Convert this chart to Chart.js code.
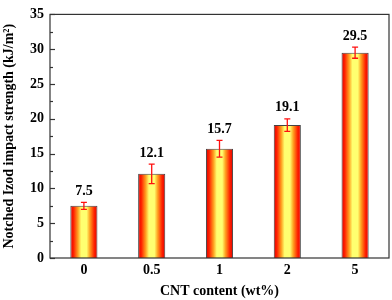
<!DOCTYPE html>
<html>
<head>
<meta charset="utf-8">
<script src="https://cdn.jsdelivr.net/npm/chart.js@4"></script>
<style>
  html, body { margin: 0; padding: 0; background: #fff; }
  #wrap { width: 392px; height: 300px; position: relative; }
</style>
</head>
<body>
<div id="wrap"><canvas id="chart"></canvas></div>
<script>
// Data
const categories = ["0", "0.5", "1", "2", "5"]
const strength = [7.5, 12.1, 15.7, 19.1, 29.5]
const errors = [0.5, 1.4, 1.2, 0.9, 0.8]
const valueLabels = ["7.5", "12.1", "15.7", "19.1", "29.5"]
const yTicks = [0, 5, 10, 15, 20, 25, 30, 35]

const serif = "'Liberation Serif', 'Times New Roman', serif"
const barFraction = 0.4

// horizontal red-yellow-red gradient for each bar
function barGradient(ctx) {
  const chart = ctx.chart
  const xs = chart.scales.x
  if (!chart.chartArea || !xs || ctx.dataIndex === undefined) return "#ff8800"
  const cx = xs.getPixelForValue(ctx.dataIndex)
  const half = ((xs.right - xs.left) / categories.length) * barFraction / 2
  if (!isFinite(cx) || !isFinite(half) || half <= 0) return "#ff8800"
  const g = chart.ctx.createLinearGradient(cx - half, 0, cx + half, 0)
  g.addColorStop(0, "#e00000")
  g.addColorStop(0.12, "#ff2200")
  g.addColorStop(0.28, "#ffa020")
  g.addColorStop(0.4, "#ffff70")
  g.addColorStop(0.6, "#ffff70")
  g.addColorStop(0.72, "#ffa020")
  g.addColorStop(0.88, "#ff2200")
  g.addColorStop(1, "#e00000")
  return g
}

// frame, inward y ticks, error bars and value labels
const extras = {
  id: "extras",
  afterDatasetsDraw(chart) {
    const ctx = chart.ctx
    const area = chart.chartArea
    const y = chart.scales.y
    const meta = chart.getDatasetMeta(0)

    // error bars
    ctx.save()
    ctx.strokeStyle = "#ff1010"
    ctx.lineWidth = 1.3
    meta.data.forEach((bar, i) => {
      const top = y.getPixelForValue(strength[i] + errors[i])
      const bot = y.getPixelForValue(strength[i] - errors[i])
      ctx.beginPath()
      ctx.moveTo(bar.x, top)
      ctx.lineTo(bar.x, bot)
      ctx.moveTo(bar.x - 3, top)
      ctx.lineTo(bar.x + 3, top)
      ctx.moveTo(bar.x - 3, bot)
      ctx.lineTo(bar.x + 3, bot)
      ctx.stroke()
    })
    ctx.restore()

    // value labels
    ctx.save()
    ctx.fillStyle = "#000"
    ctx.font = "bold 14px " + serif
    ctx.textAlign = "center"
    ctx.textBaseline = "bottom"
    meta.data.forEach((bar, i) => {
      const top = y.getPixelForValue(strength[i] + errors[i])
      ctx.fillText(valueLabels[i], bar.x, top - 4)
    })
    ctx.restore()

    // frame
    ctx.save()
    ctx.strokeStyle = "#333"
    ctx.lineWidth = 1.2
    ctx.strokeRect(area.left, area.top, area.right - area.left, area.bottom - area.top)

    // inward major and minor ticks on the left axis
    for (let v = 0; v <= 35; v += 2.5) {
      const py = Math.round(y.getPixelForValue(v)) + 0.5
      const len = v % 5 === 0 ? 5 : 3
      ctx.beginPath()
      ctx.moveTo(area.left, py)
      ctx.lineTo(area.left + len, py)
      ctx.stroke()
    }
    ctx.restore()
  }
}

new Chart(document.getElementById("chart"), {
  type: "bar",
  data: {
    labels: categories,
    datasets: [
      {
        data: strength,
        backgroundColor: barGradient,
        borderColor: "#444",
        borderWidth: 1,
        barPercentage: barFraction,
        categoryPercentage: 1,
      },
    ],
  },
  options: {
    responsive: true,
    maintainAspectRatio: false,
    animation: false,
    layout: { padding: { top: 6, right: 3, left: 0, bottom: 0 } },
    plugins: {
      legend: { display: false },
      tooltip: { enabled: false },
    },
    scales: {
      x: {
        grid: { display: false, drawTicks: false },
        border: { display: false },
        ticks: {
          color: "#000",
          font: { family: serif, size: 14, weight: "bold" },
          padding: 4,
        },
        title: {
          display: true,
          text: "CNT content (wt%)",
          color: "#000",
          font: { family: serif, size: 14, weight: "bold" },
          padding: { top: 5, bottom: 0 },
        },
        afterFit(scale) {
          scale.height = 42
        },
      },
      y: {
        min: 0,
        max: 35,
        afterBuildTicks(scale) {
          scale.ticks = yTicks.map((v) => ({ value: v }))
        },
        grid: { display: false, drawTicks: false },
        border: { display: false },
        ticks: {
          color: "#000",
          font: { family: serif, size: 14, weight: "bold" },
          padding: 6,
        },
        title: {
          display: true,
          text: "Notched Izod impact strength (kJ/m²)",
          color: "#000",
          font: { family: serif, size: 14, weight: "bold" },
          padding: { top: 1, bottom: 0 },
        },
        afterFit(scale) {
          scale.width = 50
        },
      },
    },
  },
  plugins: [extras],
})
</script>
</body>
</html>
